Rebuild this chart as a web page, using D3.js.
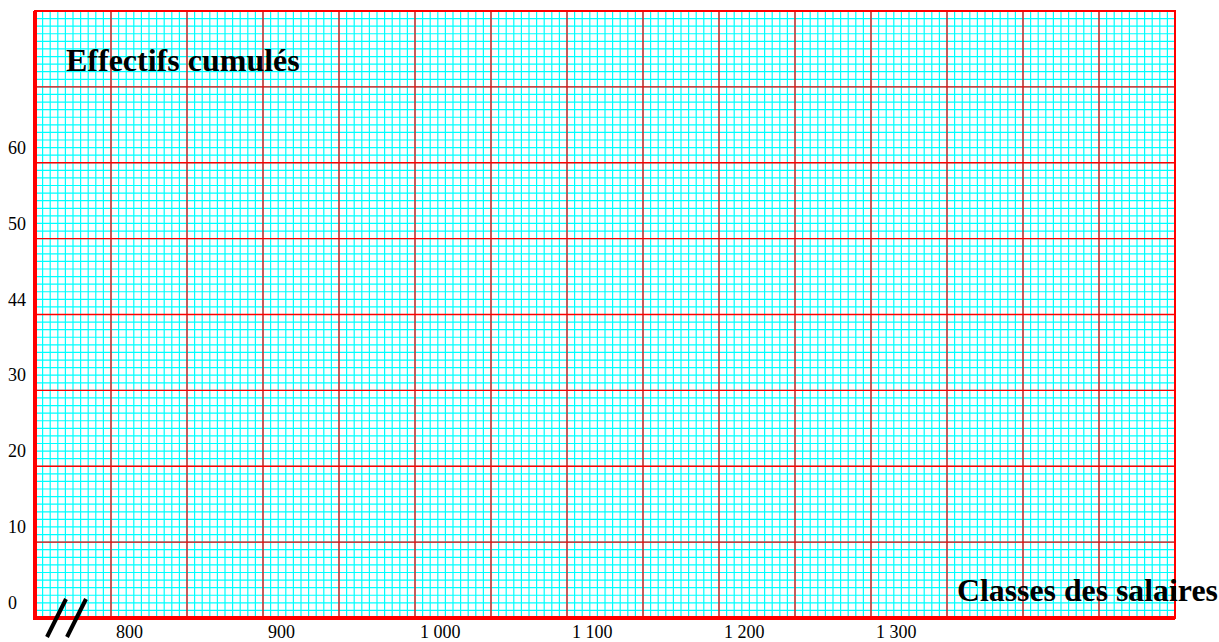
<!DOCTYPE html>
<html><head><meta charset="utf-8">
<script src="https://cdn.jsdelivr.net/npm/d3@7"></script>
<style>html,body{margin:0;padding:0;background:#fff;}svg{display:block;}</style>
</head><body>
<svg id="c" width="1219" height="642"></svg>
<script>
// Data (tick labels of the blank cumulative-frequency graph paper)
const xTickValues = [800, 900, 1000, 1100, 1200, 1300];
const xTickLabels = ["800", "900", "1 000", "1 100", "1 200", "1 300"];
const yTickValues = [0, 10, 20, 30, 40, 50, 60];
const yTickLabels = ["0", "10", "20", "30", "44", "50", "60"];
const xDomain = [750, 1500];
const yDomain = [0, 80];
const xMajorStep = 50, xMinorStep = 5;
const yMajorStep = 10, yMinorStep = 1;
const yTitle = "Effectifs cumulés";
const xTitle = "Classes des salaires";

const svg = d3.select("#c");
const x = d3.scaleLinear().domain(xDomain).range([35, 1175]);
const y = d3.scaleLinear().domain(yDomain).range([618, 11]);

const xMinor = d3.range(xDomain[0], xDomain[1] + 0.001, xMinorStep);
const yMinor = d3.range(yDomain[0], yDomain[1] + 0.001, yMinorStep);
const xMajor = d3.range(xDomain[0], xDomain[1] + 0.001, xMajorStep);
const yMajor = d3.range(yDomain[0], yDomain[1] + 0.001, yMajorStep);

const g = svg.append("g");
// minor grid
g.selectAll(".vmin").data(xMinor).join("line")
  .attr("x1", d => x(d)).attr("x2", d => x(d))
  .attr("y1", y(yDomain[0])).attr("y2", y(yDomain[1]))
  .attr("stroke", "#00ffff").attr("stroke-width", 1.2);
g.selectAll(".hmin").data(yMinor).join("line")
  .attr("y1", d => y(d)).attr("y2", d => y(d))
  .attr("x1", x(xDomain[0])).attr("x2", x(xDomain[1]))
  .attr("stroke", "#00ffff").attr("stroke-width", 1.2);
// major grid
g.selectAll(".vmaj").data(xMajor).join("line")
  .attr("x1", d => x(d)).attr("x2", d => x(d))
  .attr("y1", y(yDomain[0])).attr("y2", y(yDomain[1]))
  .attr("stroke", "#ff0000").attr("stroke-width", 1.3);
g.selectAll(".hmaj").data(yMajor).join("line")
  .attr("y1", d => y(d)).attr("y2", d => y(d))
  .attr("x1", x(xDomain[0])).attr("x2", x(xDomain[1]))
  .attr("stroke", "#ff0000").attr("stroke-width", 1.3);
// border
g.append("rect").attr("x", x(xDomain[0])).attr("y", y(yDomain[1]))
  .attr("width", x(xDomain[1]) - x(xDomain[0])).attr("height", y(yDomain[0]) - y(yDomain[1]))
  .attr("fill", "none").attr("stroke", "#ff0000").attr("stroke-width", 2);
// thick axes
g.append("line").attr("x1", x(xDomain[0])).attr("x2", x(xDomain[0]))
  .attr("y1", y(yDomain[1])).attr("y2", y(yDomain[0]) + 2)
  .attr("stroke", "#ff0000").attr("stroke-width", 4);
g.append("line").attr("x1", x(xDomain[0]) - 2).attr("x2", x(xDomain[1]))
  .attr("y1", y(yDomain[0])).attr("y2", y(yDomain[0]))
  .attr("stroke", "#ff0000").attr("stroke-width", 4);

const font = "'Liberation Serif','Times New Roman',serif";
// y labels
svg.selectAll(".yl").data(yTickValues).join("text")
  .attr("x", 8).attr("y", d => y(d) - 9)
  .attr("font-family", font).attr("font-size", 18).attr("fill", "#000")
  .text((d, i) => yTickLabels[i]);
// x labels
svg.selectAll(".xl").data(xTickValues).join("text")
  .attr("x", d => x(d) + 5).attr("y", 638)
  .attr("font-family", font).attr("font-size", 18).attr("fill", "#000")
  .text((d, i) => xTickLabels[i]);
// titles
svg.append("text").attr("x", 66).attr("y", 71)
  .attr("font-family", font).attr("font-weight", "bold").attr("font-size", 32).attr("fill", "#000")
  .text(yTitle);
svg.append("text").attr("x", 957).attr("y", 601)
  .attr("font-family", font).attr("font-weight", "bold").attr("font-size", 31.8).attr("fill", "#000")
  .text(xTitle);
// axis break marks
const brk = [[47, 637, 66, 599], [67, 637, 86, 599]];
svg.selectAll(".brk").data(brk).join("line")
  .attr("x1", d => d[0]).attr("y1", d => d[1]).attr("x2", d => d[2]).attr("y2", d => d[3])
  .attr("stroke", "#000").attr("stroke-width", 4);
</script>
</body></html>
